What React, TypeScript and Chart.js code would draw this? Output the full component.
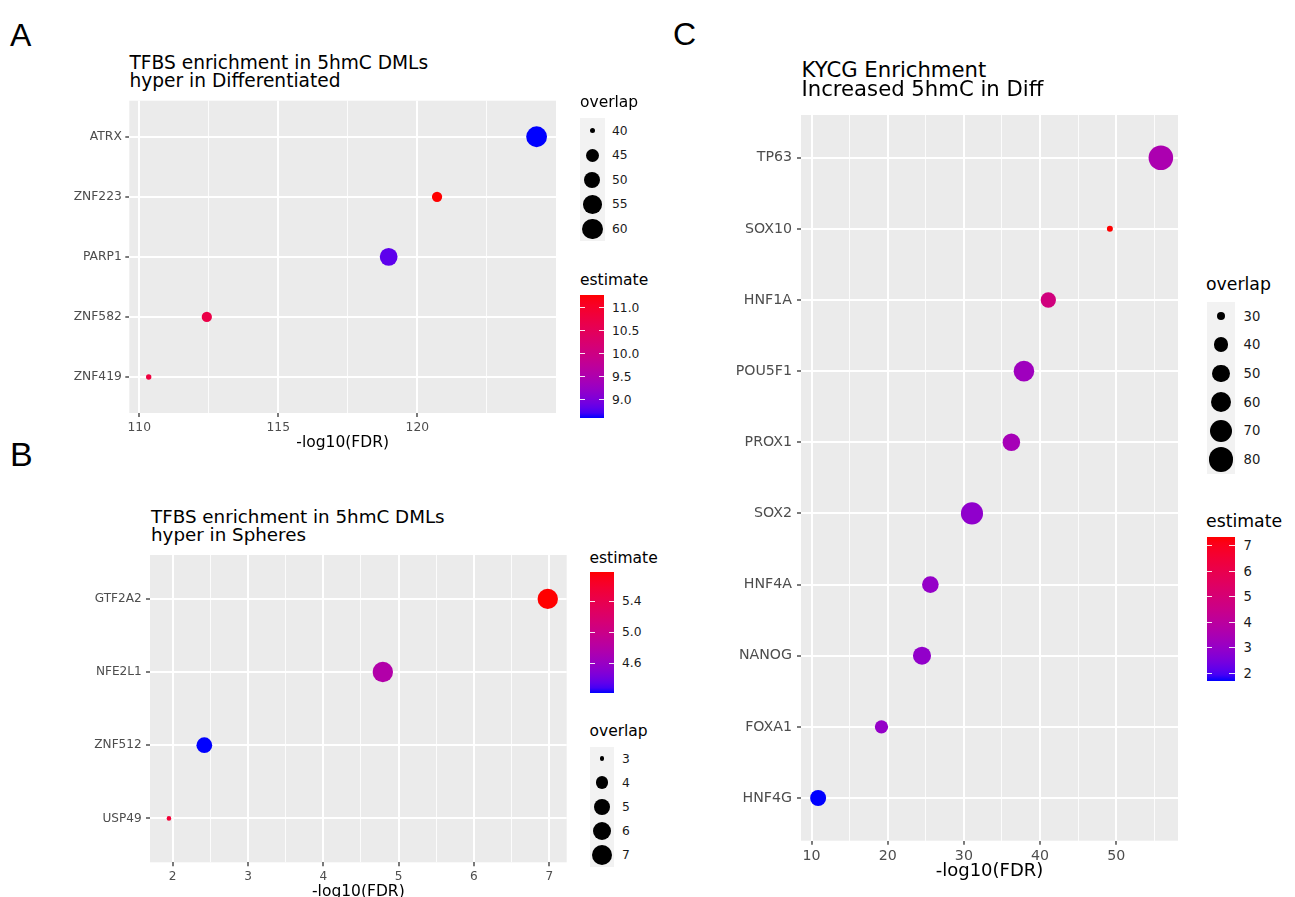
import React, { useEffect, useRef } from "react";
import { Chart, registerables } from "chart.js";

Chart.register(...registerables);

const FONT = "'DejaVu Sans', 'Noto Sans', sans-serif";
const LETTER_FONT = "'Liberation Sans', Arial, sans-serif";
Chart.defaults.font.family = FONT;

// ---------------- Panel A data ----------------
const aCategories = ["ATRX", "ZNF223", "PARP1", "ZNF582", "ZNF419"];
const aFDR = [124.29, 120.71, 118.97, 112.43, 110.34];
const aOverlap = [60, 42, 53, 42, 40];
const aEstimate = [8.59, 11.28, 8.8, 10.69, 10.8];
const aXTicks = [110, 115, 120];
const aXMinor = [112.5, 117.5, 122.5];
const aSizeBreaks = [40, 45, 50, 55, 60];
const aColorBreaks = [9.0, 9.5, 10.0, 10.5, 11.0];

// ---------------- Panel B data ----------------
const bCategories = ["GTF2A2", "NFE2L1", "ZNF512", "USP49"];
const bFDR = [6.98, 4.79, 2.42, 1.95];
const bOverlap = [7, 7, 5, 3];
const bEstimate = [5.77, 4.77, 4.215, 5.54];
const bXTicks = [2, 3, 4, 5, 6, 7];
const bXMinor = [2.5, 3.5, 4.5, 5.5, 6.5];
const bSizeBreaks = [3, 4, 5, 6, 7];
const bColorBreaks = [4.6, 5.0, 5.4];

// ---------------- Panel C data ----------------
const cCategories = ["TP63", "SOX10", "HNF1A", "POU5F1", "PROX1", "SOX2", "HNF4A", "NANOG", "FOXA1", "HNF4G"];
const cFDR = [55.85, 49.16, 41.08, 37.88, 36.23, 31.06, 25.6, 24.5, 19.18, 10.87];
const cOverlap = [81, 29, 42, 61, 49, 68, 46, 51, 37, 44];
const cEstimate = [3.57, 7.35, 4.81, 3.23, 3.4, 2.9, 3.0, 2.95, 3.0, 1.71];
const cXTicks = [10, 20, 30, 40, 50];
const cXMinor = [15, 25, 35, 45, 55];
const cSizeBreaks = [30, 40, 50, 60, 70, 80];
const cColorBreaks = [2, 3, 4, 5, 6, 7];

// ---------------- colour (Lab gradient blue -> red) ----------------
function srgbToLin(c: number) {
  c /= 255;
  return c <= 0.04045 ? c / 12.92 : Math.pow((c + 0.055) / 1.055, 2.4);
}
function linToSrgb(c: number) {
  const v = c <= 0.0031308 ? 12.92 * c : 1.055 * Math.pow(c, 1 / 2.4) - 0.055;
  return Math.round(Math.min(1, Math.max(0, v)) * 255);
}
const XN = 0.95047, YN = 1, ZN = 1.08883;
function rgbToLab(rgb: number[]) {
  const [r, g, b] = rgb.map(srgbToLin);
  const X = 0.4124 * r + 0.3576 * g + 0.1805 * b;
  const Y = 0.2126 * r + 0.7152 * g + 0.0722 * b;
  const Z = 0.0193 * r + 0.1192 * g + 0.9505 * b;
  const f = (t: number) => (t > 0.008856 ? Math.cbrt(t) : 7.787 * t + 16 / 116);
  const fx = f(X / XN), fy = f(Y / YN), fz = f(Z / ZN);
  return [116 * fy - 16, 500 * (fx - fy), 200 * (fy - fz)];
}
function labToRgb(lab: number[]) {
  const [L, a, b] = lab;
  const fy = (L + 16) / 116, fx = fy + a / 500, fz = fy - b / 200;
  const finv = (t: number) => (t * t * t > 0.008856 ? t * t * t : (t - 16 / 116) / 7.787);
  const X = XN * finv(fx), Y = YN * finv(fy), Z = ZN * finv(fz);
  const r = 3.2406 * X - 1.5372 * Y - 0.4986 * Z;
  const g = -0.9689 * X + 1.8758 * Y + 0.0415 * Z;
  const bb = 0.0557 * X - 0.204 * Y + 1.057 * Z;
  return [linToSrgb(r), linToSrgb(g), linToSrgb(bb)];
}
const LOW_LAB = rgbToLab([0, 0, 255]);
const HIGH_LAB = rgbToLab([255, 0, 0]);
function makeColor(values: number[]) {
  const lo = Math.min(...values), hi = Math.max(...values);
  return (v: number) => {
    const t = Math.min(1, Math.max(0, (v - lo) / (hi - lo)));
    const lab = LOW_LAB.map((l, i) => l + (HIGH_LAB[i] - l) * t);
    const [r, g, b] = labToRgb(lab);
    return `rgb(${r},${g},${b})`;
  };
}
function makeSize(values: number[], range: [number, number]) {
  const lo = Math.min(...values), hi = Math.max(...values);
  return (v: number) => range[0] + (range[1] - range[0]) * Math.sqrt(Math.max(0, Math.min(1, (v - lo) / (hi - lo))));
}

// ---------------- panel specs ----------------
type Spec = {
  cats: string[]; fdr: number[]; overlap: number[]; est: number[];
  xMajor: number[]; xMinor: number[];
  canvas: { left: number; top: number; width: number; height: number };
  plot: { left: number; top: number; right: number; bottom: number };
  rRange: [number, number];
  tickFont: number; yPad: number; xPad: number; titleFont: number; titleOffset: number;
};

const specA: Spec = {
  cats: aCategories, fdr: aFDR, overlap: aOverlap, est: aEstimate, xMajor: aXTicks, xMinor: aXMinor,
  canvas: { left: 40, top: 96, width: 522, height: 364 },
  plot: { left: 129.3, top: 100.7, right: 556, bottom: 413 },
  rRange: [2.7, 10.4], tickFont: 12.3, yPad: 3.5, xPad: 3, titleFont: 15.5, titleOffset: 16.6,
};
const specB: Spec = {
  cats: bCategories, fdr: bFDR, overlap: bOverlap, est: bEstimate, xMajor: bXTicks, xMinor: bXMinor,
  canvas: { left: 50, top: 548, width: 522, height: 360 },
  plot: { left: 150, top: 555, right: 566.7, bottom: 862.3 },
  rRange: [2.3, 10.2], tickFont: 12.1, yPad: 4.3, xPad: 3, titleFont: 15.5, titleOffset: 16.5,
};
const specC: Spec = {
  cats: cCategories, fdr: cFDR, overlap: cOverlap, est: cEstimate, xMajor: cXTicks, xMinor: cXMinor,
  canvas: { left: 690, top: 110, width: 495, height: 787 },
  plot: { left: 801, top: 115, right: 1178, bottom: 840.7 },
  rRange: [3, 12.3], tickFont: 14.2, yPad: 5, xPad: 3, titleFont: 18, titleOffset: 25.5,
};

const bgPlugin = {
  id: "panelBg",
  beforeDraw(chart: any) {
    const { ctx, chartArea: a } = chart;
    ctx.save();
    ctx.fillStyle = "#EBEBEB";
    ctx.fillRect(a.left, a.top, a.right - a.left, a.bottom - a.top);
    ctx.restore();
  },
};

function Panel({ spec }: { spec: Spec }) {
  const ref = useRef<HTMLCanvasElement | null>(null);
  useEffect(() => {
    if (!ref.current) return;
    const s = spec;
    const n = s.cats.length;
    const lo = Math.min(...s.fdr), hi = Math.max(...s.fdr);
    const ex = 0.05 * (hi - lo);
    const sizeFn = makeSize(s.overlap, s.rRange);
    const colFn = makeColor(s.est);
    const allX = [...s.xMajor, ...s.xMinor].sort((p, q) => p - q);
    const isMajor = (v: number) => s.xMajor.includes(v);
    const lh = s.titleFont * 1.2;
    const chart = new Chart(ref.current, {
      type: "scatter",
      data: {
        datasets: [
          {
            data: s.cats.map((_, i) => ({ x: s.fdr[i], y: i })),
            pointRadius: s.overlap.map(sizeFn),
            pointHoverRadius: s.overlap.map(sizeFn),
            pointBackgroundColor: s.est.map(colFn),
            pointBorderColor: "rgba(0,0,0,0)",
            pointBorderWidth: 0,
            clip: false,
          } as any,
        ],
      },
      options: {
        responsive: false,
        maintainAspectRatio: false,
        animation: false,
        events: [],
        layout: {
          autoPadding: false,
          padding: {
            left: 0,
            top: s.plot.top - s.canvas.top,
            right: s.canvas.left + s.canvas.width - s.plot.right,
            bottom: 0,
          },
        },
        plugins: { legend: { display: false }, tooltip: { enabled: false }, title: { display: false } },
        scales: {
          x: {
            type: "linear",
            position: "bottom",
            min: lo - ex,
            max: hi + ex,
            afterBuildTicks: (sc: any) => {
              sc.ticks = allX.map((v) => ({ value: v }));
            },
            afterFit: (sc: any) => {
              sc.height = s.canvas.top + s.canvas.height - s.plot.bottom;
              sc.paddingLeft = 0;
              sc.paddingRight = 0;
              sc.paddingTop = 0;
              sc.paddingBottom = 0;
            },
            ticks: {
              autoSkip: false,
              maxRotation: 0,
              minRotation: 0,
              padding: s.xPad,
              color: "#4D4D4D",
              font: { size: s.tickFont },
              callback: (v: any) => (isMajor(v) ? String(v) : ""),
            },
            grid: {
              color: (ctx: any) => (isMajor(ctx.tick?.value) ? "#FFFFFF" : "rgba(255,255,255,0.85)"),
              lineWidth: (ctx: any) => (isMajor(ctx.tick?.value) ? 2 : 1),
              tickColor: (ctx: any) => (isMajor(ctx.tick?.value) ? "#333333" : "rgba(0,0,0,0)"),
              tickLength: 4,
              tickWidth: 1.3,
            },
            border: { display: false },
            title: {
              display: true,
              text: "-log10(FDR)",
              color: "#000000",
              font: { size: s.titleFont },
              padding: { top: 0, bottom: s.titleOffset - lh / 2 },
            },
          },
          y: {
            type: "linear",
            position: "left",
            reverse: true,
            min: -0.6,
            max: n - 1 + 0.6,
            afterBuildTicks: (sc: any) => {
              sc.ticks = s.cats.map((_, i) => ({ value: i }));
            },
            afterFit: (sc: any) => {
              sc.width = s.plot.left - s.canvas.left;
              sc.paddingTop = 0;
              sc.paddingBottom = 0;
              sc.paddingLeft = 0;
              sc.paddingRight = 0;
            },
            ticks: {
              autoSkip: false,
              padding: s.yPad,
              color: "#4D4D4D",
              font: { size: s.tickFont },
              callback: (v: any) => s.cats[v] ?? "",
            },
            grid: { color: "#FFFFFF", lineWidth: 2, tickColor: "#333333", tickLength: 4, tickWidth: 1.3 },
            border: { display: false },
          },
        },
      } as any,
      plugins: [bgPlugin],
    });
    return () => chart.destroy();
  }, [spec]);
  const c = spec.canvas;
  return (
    <canvas
      ref={ref}
      width={c.width}
      height={c.height}
      style={{ position: "absolute", left: c.left, top: c.top, width: c.width, height: c.height }}
    />
  );
}

// ---------------- text & legends ----------------
function Txt({ x, y, size, children, color = "#000", family = FONT }: any) {
  return (
    <div
      style={{
        position: "absolute",
        left: x,
        top: y - 0.846 * size,
        fontSize: size,
        lineHeight: `${size}px`,
        fontFamily: family,
        color,
        whiteSpace: "nowrap",
      }}
    >
      {children}
    </div>
  );
}

function SizeLegend({ title, titleX, titleY, titleSize, left, top, width, keyH, breaks, radius, labelX, labelSize }: any) {
  return (
    <>
      <Txt x={titleX} y={titleY} size={titleSize}>{title}</Txt>
      <div style={{ position: "absolute", left, top, width, height: keyH * breaks.length, background: "#F2F2F2" }} />
      {breaks.map((b: number, i: number) => {
        const cy = top + (i + 0.5) * keyH;
        const r = radius(b);
        return (
          <React.Fragment key={b}>
            <div
              style={{
                position: "absolute",
                left: left + width / 2 - r,
                top: cy - r,
                width: 2 * r,
                height: 2 * r,
                borderRadius: "50%",
                background: "#000",
              }}
            />
            <Txt x={labelX} y={cy + 0.3645 * labelSize} size={labelSize} color="#1A1A1A">{String(b)}</Txt>
          </React.Fragment>
        );
      })}
    </>
  );
}

function ColorLegend({ title, titleX, titleY, titleSize, left, top, width, bottom, breaks, values, labelX, labelSize, digits }: any) {
  const lo = Math.min(...values), hi = Math.max(...values);
  const colFn = makeColor(values);
  const stops: string[] = [];
  for (let k = 0; k <= 24; k++) {
    const t = k / 24;
    stops.push(`${colFn(lo + t * (hi - lo))} ${(t * 100).toFixed(2)}%`);
  }
  const h = bottom - top;
  const tl = width / 5;
  return (
    <>
      <Txt x={titleX} y={titleY} size={titleSize}>{title}</Txt>
      <div style={{ position: "absolute", left, top, width, height: h, background: `linear-gradient(to top, ${stops.join(", ")})` }} />
      {breaks.map((b: number) => {
        const y = bottom - ((b - lo) / (hi - lo)) * h;
        return (
          <React.Fragment key={b}>
            <div style={{ position: "absolute", left, top: y - 0.5, width: tl, height: 1, background: "rgba(255,255,255,0.9)" }} />
            <div style={{ position: "absolute", left: left + width - tl, top: y - 0.5, width: tl, height: 1, background: "rgba(255,255,255,0.9)" }} />
            <Txt x={labelX} y={y + 0.3645 * labelSize} size={labelSize} color="#1A1A1A">{b.toFixed(digits)}</Txt>
          </React.Fragment>
        );
      })}
    </>
  );
}

export default function App() {
  const sizeA = makeSize(aOverlap, specA.rRange);
  const sizeB = makeSize(bOverlap, specB.rRange);
  const sizeC = makeSize(cOverlap, specC.rRange);
  return (
    <div
      style={{
        position: "absolute",
        left: 0,
        top: 0,
        width: 1295,
        height: 897,
        overflow: "hidden",
        background: "#FFFFFF",
        fontFamily: FONT,
      }}
    >
      <Panel spec={specA} />
      <Panel spec={specB} />
      <Panel spec={specC} />

      {/* panel letters */}
      <Txt x={10} y={46.5} size={32} family={LETTER_FONT}>A</Txt>
      <Txt x={10} y={465.5} size={34} family={LETTER_FONT}>B</Txt>
      <Txt x={673} y={45} size={32} family={LETTER_FONT}>C</Txt>

      {/* titles */}
      <Txt x={129.5} y={70} size={18.6}>TFBS enrichment in 5hmC DMLs</Txt>
      <Txt x={129.5} y={87.7} size={18.6}>hyper in Differentiated</Txt>
      <Txt x={151} y={523.3} size={18.3}>TFBS enrichment in 5hmC DMLs</Txt>
      <Txt x={151} y={541} size={18.3}>hyper in Spheres</Txt>
      <Txt x={801.5} y={77} size={21.2}>KYCG Enrichment</Txt>
      <Txt x={801.5} y={96} size={21.2}>Increased 5hmC in Diff</Txt>

      {/* legends A */}
      <SizeLegend title="overlap" titleX={580} titleY={108.5} titleSize={15.5} left={580} top={118.3} width={24.5} keyH={24.6}
        breaks={aSizeBreaks} radius={sizeA} labelX={612} labelSize={12.3} />
      <ColorLegend title="estimate" titleX={580} titleY={286} titleSize={15.5} left={580} top={295} width={24.3} bottom={418.3}
        breaks={aColorBreaks} values={aEstimate} labelX={612} labelSize={12.3} digits={1} />

      {/* legends B */}
      <ColorLegend title="estimate" titleX={589.5} titleY={564} titleSize={15.5} left={590} top={572.3} width={24.3} bottom={693.3}
        breaks={bColorBreaks} values={bEstimate} labelX={622} labelSize={12.3} digits={1} />
      <SizeLegend title="overlap" titleX={589.5} titleY={737} titleSize={15.5} left={590} top={746.7} width={24.3} keyH={24}
        breaks={bSizeBreaks} radius={sizeB} labelX={622} labelSize={12.3} />

      {/* legends C */}
      <SizeLegend title="overlap" titleX={1206} titleY={291} titleSize={17.3} left={1206.7} top={301.7} width={28.3} keyH={28.7}
        breaks={cSizeBreaks} radius={sizeC} labelX={1243.5} labelSize={13.2} />
      <ColorLegend title="estimate" titleX={1206} titleY={527.3} titleSize={17.3} left={1206.7} top={536.7} width={28.3} bottom={680.7}
        breaks={cColorBreaks} values={cEstimate} labelX={1243.5} labelSize={13.2} digits={0} />
    </div>
  );
}
